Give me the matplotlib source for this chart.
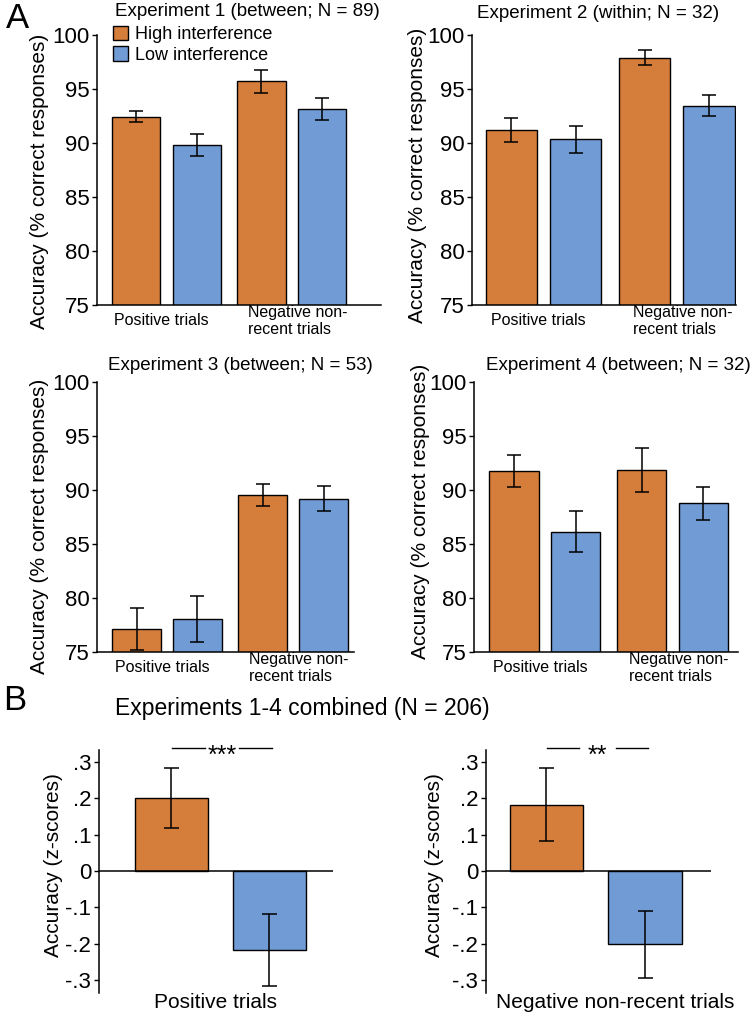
import matplotlib
matplotlib.use('Agg')
import matplotlib.pyplot as plt
import numpy as np

plt.rcParams['font.family'] = ['Liberation Sans', 'DejaVu Sans']

# --- data ---
conditions = ['High interference', 'Low interference']
trial_types = ['Positive trials', 'Negative non-\nrecent trials']
exp_titles = ['Experiment 1 (between; N = 89)', 'Experiment 2 (within; N = 32)',
              'Experiment 3 (between; N = 53)', 'Experiment 4 (between; N = 32)']

# accuracy (% correct), order: [positive, negative non-recent]
exp1_high = [92.45, 95.7]
exp1_low = [89.8, 93.15]
exp1_high_err = [0.55, 1.05]
exp1_low_err = [1.0, 1.0]

exp2_high = [91.2, 97.9]
exp2_low = [90.35, 93.45]
exp2_high_err = [1.15, 0.7]
exp2_low_err = [1.25, 0.95]

exp3_high = [77.15, 89.55]
exp3_low = [78.05, 89.2]
exp3_high_err = [1.95, 1.05]
exp3_low_err = [2.15, 1.13]

exp4_high = [91.75, 91.85]
exp4_low = [86.15, 88.75]
exp4_high_err = [1.47, 2.07]
exp4_low_err = [1.87, 1.5]

# combined z-scores, order: [high, low]
comb_titles = ['Positive trials', 'Negative non-recent trials']
comb_pos = [0.200, -0.218]
comb_pos_err = [0.083, 0.099]
comb_neg = [0.182, -0.201]
comb_neg_err = [0.100, 0.092]
comb_sig = ['***', '**']

ORANGE = '#D57D3A'
BLUE = '#709BD4'

W, H = 750, 1017
fig = plt.figure(figsize=(W / 100, H / 100), dpi=100)


def box(l, t, r, b):
    return [l / W, 1 - b / H, (r - l) / W, (b - t) / H]


# --- panel A ---
highs = [exp1_high, exp2_high, exp3_high, exp4_high]
lows = [exp1_low, exp2_low, exp3_low, exp4_low]
high_errs = [exp1_high_err, exp2_high_err, exp3_high_err, exp4_high_err]
low_errs = [exp1_low_err, exp2_low_err, exp3_low_err, exp4_low_err]

boxes = [(97, 35, 381, 305), (472, 35, 736, 305),
         (97, 382, 354, 652), (474, 382, 738, 652)]
xlims = [(-0.65, 4.05), (-0.61, 3.49), (-0.65, 3.57), (-0.65, 3.63)]
title_xy = [(247, 11), (598, 13), (240, 365), (618, 365)]
ylab_xy = [(40, 181), (417, 175), (40, 526), (420, 511)]

xh = np.array([0, 2.07])
xl = xh + 1

for i in range(4):
    ax = fig.add_axes(box(*boxes[i]))
    ax.bar(xh, highs[i], width=0.8, bottom=0, color=ORANGE, edgecolor='black', linewidth=1.0, zorder=2)
    ax.bar(xl, lows[i], width=0.8, color=BLUE, edgecolor='black', linewidth=1.0, zorder=2)
    ax.errorbar(xh, highs[i], yerr=high_errs[i], fmt='none', ecolor='black', elinewidth=1.1, capsize=4.7, capthick=1.1, zorder=3)
    ax.errorbar(xl, lows[i], yerr=low_errs[i], fmt='none', ecolor='black', elinewidth=1.1, capsize=4.7, capthick=1.1, zorder=3)
    ax.set_ylim(75, 100)
    ax.set_xlim(*xlims[i])
    ax.set_yticks([75, 80, 85, 90, 95, 100])
    ax.tick_params(axis='y', labelsize=16, length=3.5, width=1.0, pad=2)
    ax.set_xticks([0.42, 2.67])
    ax.set_xticklabels(trial_types, fontsize=11.5, va='center', multialignment='left')
    ax.tick_params(axis='x', length=0, pad=11.5)
    for s in ['top', 'right']:
        ax.spines[s].set_visible(False)
    for s in ['left', 'bottom']:
        ax.spines[s].set_linewidth(1.1)
    fig.text(title_xy[i][0] / W, 1 - title_xy[i][1] / H, exp_titles[i], fontsize=13.5, ha='center', va='center')
    fig.text(ylab_xy[i][0] / W, 1 - ylab_xy[i][1] / H, 'Accuracy (% correct responses)', fontsize=15,
             rotation=90, ha='center', va='center')
    if i == 0:
        ax.bar([0], [0], color=ORANGE, edgecolor='black', linewidth=1.0, label=conditions[0])
        ax.bar([0], [0], color=BLUE, edgecolor='black', linewidth=1.0, label=conditions[1])
        ax.legend(loc='upper left', bbox_to_anchor=(0.03, 1.06), frameon=False, fontsize=13,
                  handlelength=0.85, handleheight=0.85, handletextpad=0.4, labelspacing=0.15, borderaxespad=0)

fig.text(17 / W, 1 - 18 / H, 'A', fontsize=25, ha='center', va='center')
fig.text(15 / W, 1 - 700 / H, 'B', fontsize=25, ha='center', va='center')
fig.text(302 / W, 1 - 708 / H, 'Experiments 1-4 combined (N = 206)', fontsize=16.5, ha='center', va='center')

# --- panel B ---
comb_vals = [comb_pos, comb_neg]
comb_errs = [comb_pos_err, comb_neg_err]
bboxes = [(99, 750, 333, 993), (486, 750, 711, 993)]
bxlims = [(-0.74, 1.65), (-0.614, 1.67)]
bylab_xy = [(54, 865), (434, 865)]
xlab_x = [215, 615]
gaps = [0.17, 0.19]

for i in range(2):
    ax = fig.add_axes(box(*bboxes[i]))
    ax.bar([0, 1], comb_vals[i], width=0.75, color=[ORANGE, BLUE], edgecolor='black', linewidth=1.0, zorder=2)
    ax.errorbar([0, 1], comb_vals[i], yerr=comb_errs[i], fmt='none', ecolor='black', elinewidth=1.1,
                capsize=5.4, capthick=1.1, zorder=3)
    ax.axhline(0, color='black', linewidth=1.1, zorder=4)
    ax.set_xlim(*bxlims[i])
    ax.set_ylim(-0.335, 0.332)
    ticks = [0.3, 0.2, 0.1, 0, -0.1, -0.2, -0.3]
    ax.set_yticks(ticks)
    ax.set_yticklabels(['.3', '.2', '.1', '0', '-.1', '-.2', '-.3'])
    ax.tick_params(axis='y', labelsize=16, length=3.5, width=1.0, pad=2)
    ax.set_xticks([])
    for s in ['top', 'right', 'bottom']:
        ax.spines[s].set_visible(False)
    ax.spines['left'].set_linewidth(1.1)
    # significance bracket
    y_line = 0.337
    mid = 0.515
    ax.plot([0.01, mid - gaps[i]], [y_line, y_line], color='black', linewidth=1.0, clip_on=False)
    ax.plot([mid + gaps[i], 1.03], [y_line, y_line], color='black', linewidth=1.0, clip_on=False)
    ax.annotate(comb_sig[i], (mid, y_line), xytext=(0, -10.5), textcoords='offset points',
                ha='center', va='baseline', fontsize=18, annotation_clip=False)
    fig.text(bylab_xy[i][0] / W, 1 - bylab_xy[i][1] / H, 'Accuracy (z-scores)', fontsize=15,
             rotation=90, ha='center', va='center')
    fig.text(xlab_x[i] / W, 1 - 1003 / H, comb_titles[i], fontsize=15, ha='center', va='center')

fig.savefig('out.png', dpi=100)
